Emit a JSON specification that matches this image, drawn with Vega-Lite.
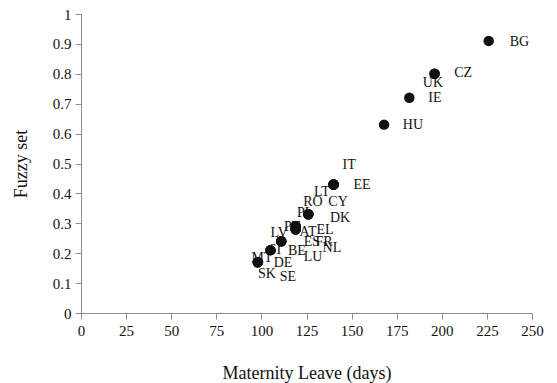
{
  "$schema": "https://vega.github.io/schema/vega-lite/v6.json",
  "width": 451,
  "height": 299,
  "autosize": "none",
  "padding": {"left": 81, "top": 14, "right": 25, "bottom": 70},
  "background": "white",
  "config": {
    "view": {"stroke": null},
    "font": "Liberation Serif",
    "axis": {
      "grid": false,
      "domainColor": "#8c8c8c",
      "tickColor": "#8c8c8c",
      "tickSize": 6,
      "labelColor": "#111",
      "titleColor": "#111",
      "labelFont": "Liberation Serif",
      "titleFont": "Liberation Serif",
      "labelFontSize": 15,
      "titleFontSize": 18,
      "titleFontWeight": "normal",
      "labelOverlap": false,
      "labelFlush": false
    }
  },
  "data": {
    "values": [
      {"c": "BG", "x": 226, "y": 0.91, "lx": 243, "ly": 0.906},
      {"c": "CZ", "x": 196, "y": 0.80, "lx": 211.8, "ly": 0.803},
      {"c": "UK", "x": 196, "y": 0.80, "lx": 195.1, "ly": 0.769},
      {"c": "IE", "x": 182, "y": 0.72, "lx": 196.2, "ly": 0.719},
      {"c": "HU", "x": 168, "y": 0.63, "lx": 184, "ly": 0.629},
      {"c": "IT", "x": 140, "y": 0.43, "lx": 148.6, "ly": 0.495},
      {"c": "EE", "x": 140, "y": 0.43, "lx": 155.8, "ly": 0.428},
      {"c": "LT", "x": 140, "y": 0.43, "lx": 133.6, "ly": 0.405},
      {"c": "CY", "x": 140, "y": 0.43, "lx": 142.5, "ly": 0.371},
      {"c": "RO", "x": 126, "y": 0.33, "lx": 128.6, "ly": 0.371},
      {"c": "PL", "x": 126, "y": 0.33, "lx": 124.2, "ly": 0.334},
      {"c": "DK", "x": 126, "y": 0.33, "lx": 143.6, "ly": 0.318},
      {"c": "PT", "x": 119, "y": 0.29, "lx": 117, "ly": 0.288},
      {"c": "AT", "x": 119, "y": 0.29, "lx": 125.8, "ly": 0.271},
      {"c": "EL", "x": 119, "y": 0.28, "lx": 135.3, "ly": 0.278},
      {"c": "ES", "x": 119, "y": 0.28, "lx": 128, "ly": 0.237},
      {"c": "FR", "x": 119, "y": 0.28, "lx": 134.7, "ly": 0.237},
      {"c": "NL", "x": 119, "y": 0.28, "lx": 139.1, "ly": 0.217},
      {"c": "LV", "x": 111, "y": 0.24, "lx": 109.8, "ly": 0.268},
      {"c": "BE", "x": 111, "y": 0.24, "lx": 119.7, "ly": 0.207},
      {"c": "LU", "x": 111, "y": 0.24, "lx": 128.6, "ly": 0.187},
      {"c": "SI", "x": 105, "y": 0.21, "lx": 107.5, "ly": 0.211},
      {"c": "DE", "x": 105, "y": 0.21, "lx": 112, "ly": 0.167},
      {"c": "MT", "x": 98, "y": 0.17, "lx": 100.3, "ly": 0.184},
      {"c": "SK", "x": 98, "y": 0.17, "lx": 103.1, "ly": 0.13},
      {"c": "SE", "x": 98, "y": 0.17, "lx": 114.7, "ly": 0.12}
    ]
  },
  "encoding": {
    "x": {"type": "quantitative", "scale": {"domain": [0, 250], "nice": false, "zero": true},
      "axis": {"values": [0,25,50,75,100,125,150,175,200,225,250], "format": "d", "title": "Maternity Leave (days)", "labelPadding": 4, "titlePadding": 26, "labelOverlap": false}},
    "y": {"type": "quantitative", "scale": {"domain": [0, 1], "nice": false},
      "axis": {"tickCount": 10, "format": "~g", "title": "Fuzzy set", "labelPadding": 4, "titlePadding": 22, "labelOverlap": false}}
  },
  "layer": [
    {
      "mark": {"type": "text", "font": "Liberation Serif", "fontSize": 14, "color": "#111", "align": "center", "baseline": "middle"},
      "encoding": {
        "x": {"field": "lx", "type": "quantitative"},
        "y": {"field": "ly", "type": "quantitative"},
        "text": {"field": "c"}
      }
    },
    {
      "mark": {"type": "circle", "size": 110, "color": "#111", "opacity": 1},
      "encoding": {
        "x": {"field": "x", "type": "quantitative"},
        "y": {"field": "y", "type": "quantitative"}
      }
    }
  ]
}
